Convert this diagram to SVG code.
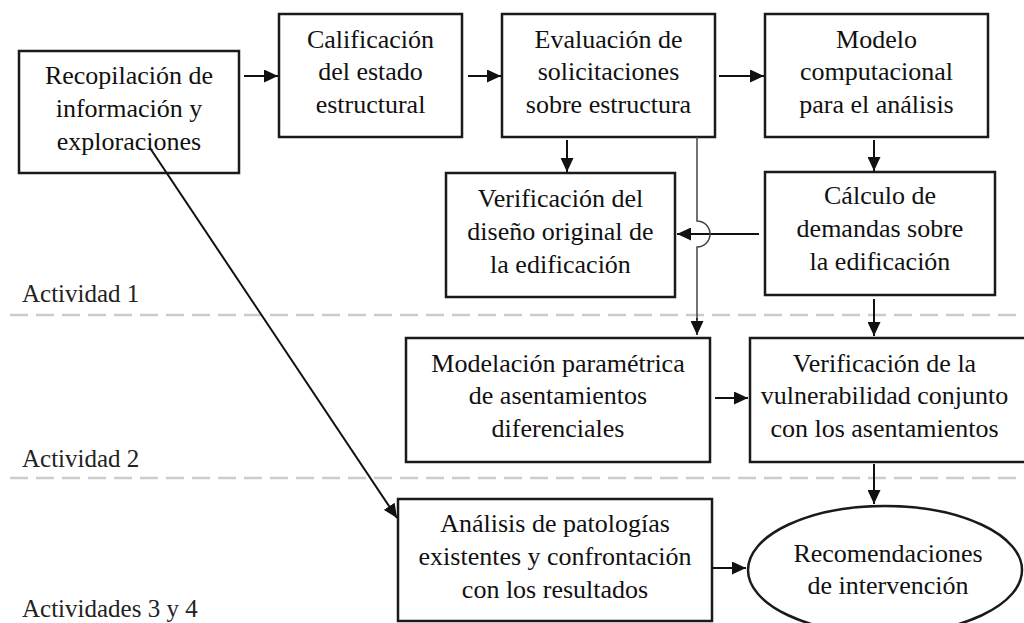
<svg xmlns="http://www.w3.org/2000/svg" width="1024" height="623" viewBox="0 0 1024 623">
<defs>
<marker id="ah" markerUnits="userSpaceOnUse" markerWidth="14" markerHeight="13" refX="14" refY="6.5" orient="auto">
<path d="M0,0 L14,6.5 L0,13 z" fill="#111"/>
</marker>
<style>
.box{fill:none;stroke:#1a1a1a;stroke-width:2.5}
.t{font-family:"Liberation Serif","Times New Roman",serif;font-size:26px;fill:#111;text-anchor:middle}
.lbl{font-family:"Liberation Serif","Times New Roman",serif;font-size:25px;fill:#222}
.c{fill:none;stroke:#111;stroke-width:2;marker-end:url(#ah)}
.thin{fill:none;stroke:#444;stroke-width:1.5}
.dash{stroke:#cccccc;stroke-width:2.5;stroke-dasharray:18 8}
</style>
</defs>
<rect width="1024" height="623" fill="#ffffff"/>
<g id="lanes">
<line class="dash" x1="10" y1="315" x2="1024" y2="315"/>
<line class="dash" x1="10" y1="478" x2="1024" y2="478"/>
<text class="lbl" x="22" y="302">Actividad 1</text>
<text class="lbl" x="22" y="467">Actividad 2</text>
<text class="lbl" x="22" y="617">Actividades 3 y 4</text>
</g>
<g id="recopilacion">
<rect class="box" x="19" y="51" width="220" height="122"/>
<text class="t" x="129" y="84">Recopilación de</text>
<text class="t" x="129" y="117">información y</text>
<text class="t" x="129" y="150">exploraciones</text>
</g>
<g id="calificacion">
<rect class="box" x="279" y="14" width="183" height="123"/>
<text class="t" x="370.5" y="48">Calificación</text>
<text class="t" x="370.5" y="80">del estado</text>
<text class="t" x="370.5" y="113">estructural</text>
</g>
<g id="evaluacion">
<rect class="box" x="502" y="14" width="213" height="123"/>
<text class="t" x="608.5" y="48">Evaluación de</text>
<text class="t" x="608.5" y="80">solicitaciones</text>
<text class="t" x="608.5" y="113">sobre estructura</text>
</g>
<g id="modelo">
<rect class="box" x="765" y="14" width="223" height="123"/>
<text class="t" x="876.5" y="48">Modelo</text>
<text class="t" x="876.5" y="80">computacional</text>
<text class="t" x="876.5" y="113">para el análisis</text>
</g>
<g id="verificacion-diseno">
<rect class="box" x="446" y="173" width="229" height="124"/>
<text class="t" x="560.5" y="207">Verificación del</text>
<text class="t" x="560.5" y="240">diseño original de</text>
<text class="t" x="560.5" y="273">la edificación</text>
</g>
<g id="calculo">
<rect class="box" x="765" y="172" width="230" height="123"/>
<text class="t" x="880" y="204">Cálculo de</text>
<text class="t" x="880" y="237">demandas sobre</text>
<text class="t" x="880" y="270">la edificación</text>
</g>
<g id="modelacion">
<rect class="box" x="406" y="338" width="304" height="124"/>
<text class="t" x="558" y="372">Modelación paramétrica</text>
<text class="t" x="558" y="404">de asentamientos</text>
<text class="t" x="558" y="437">diferenciales</text>
</g>
<g id="verificacion-vulnerabilidad">
<rect class="box" x="750" y="338" width="280" height="124"/>
<text class="t" x="884.5" y="372">Verificación de la</text>
<text class="t" x="884.5" y="404">vulnerabilidad conjunto</text>
<text class="t" x="884.5" y="437">con los asentamientos</text>
</g>
<g id="analisis">
<rect class="box" x="398" y="499" width="314" height="122"/>
<text class="t" x="555" y="532">Análisis de patologías</text>
<text class="t" x="555" y="565">existentes y confrontación</text>
<text class="t" x="555" y="598">con los resultados</text>
</g>
<g id="recomendaciones">
<ellipse class="box" cx="885" cy="570" rx="137" ry="64"/>
<text class="t" x="888" y="562">Recomendaciones</text>
<text class="t" x="888" y="594">de intervención</text>
</g>
<g id="connectors">
<line class="c" x1="244" y1="76" x2="278" y2="76"/>
<line class="c" x1="468" y1="76" x2="501" y2="76"/>
<line class="c" x1="719" y1="76" x2="764" y2="76"/>
<line class="c" x1="567" y1="140" x2="567" y2="172"/>
<line class="c" x1="874" y1="140" x2="874" y2="171"/>
<line class="c" x1="759" y1="234" x2="677" y2="234"/>
<path class="thin" d="M697,137 L697,221 A13,13 0 0 1 697,247 L697,320"/>
<line class="c" x1="697" y1="318" x2="697" y2="335" style="stroke-width:1.5"/>
<line class="c" x1="874" y1="299" x2="874" y2="336"/>
<line class="c" x1="715" y1="398" x2="748" y2="398"/>
<line class="c" x1="874" y1="464" x2="874" y2="504"/>
<line class="c" x1="712" y1="568" x2="746" y2="568"/>
<line class="c" x1="150" y1="148" x2="397" y2="518"/>
</g>
</svg>
